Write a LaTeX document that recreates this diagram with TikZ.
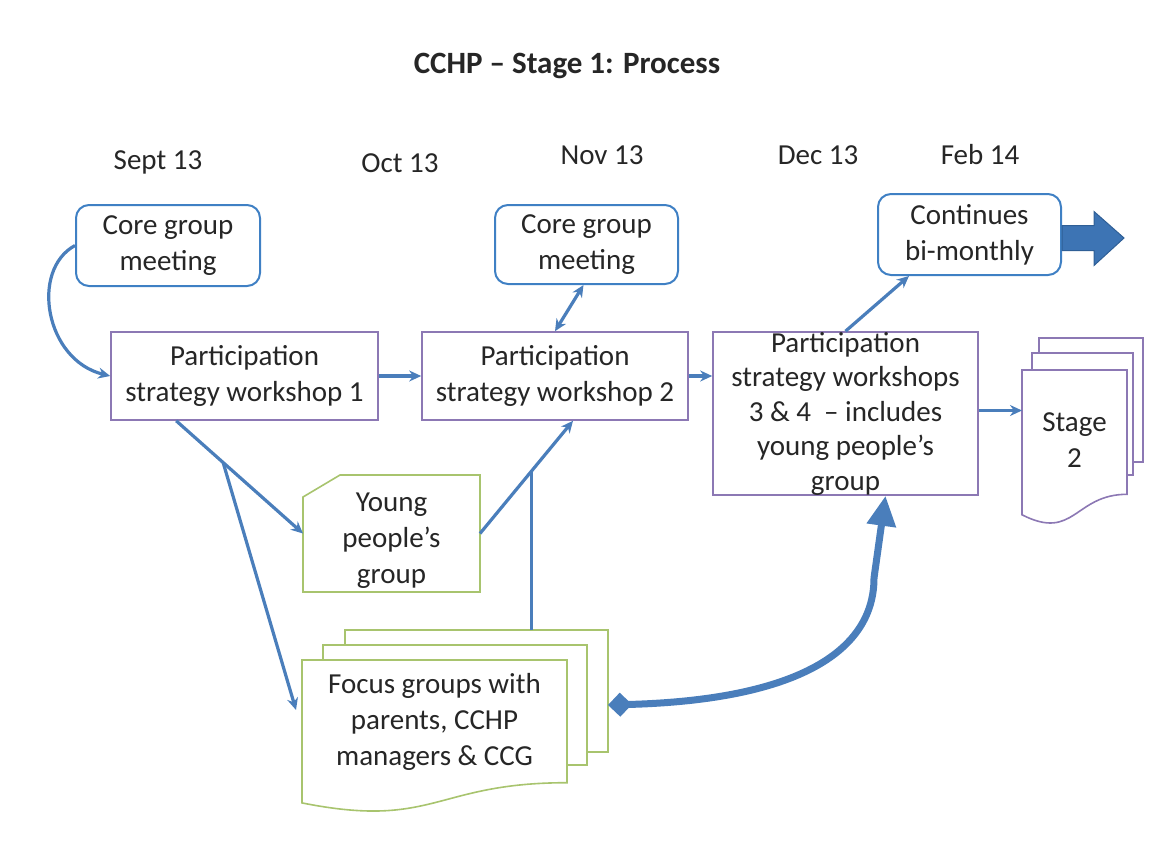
\documentclass[tikz,border=0pt]{standalone}
\usepackage{fontspec}
\setmainfont{Carlito}
\usetikzlibrary{arrows.meta,calc}
\definecolor{cblue}{HTML}{4A7EBB}
\definecolor{bbox}{HTML}{3F80C4}
\definecolor{cpurple}{HTML}{8C78B4}
\definecolor{cgreen}{HTML}{A8C46E}
\definecolor{ctext}{HTML}{262626}
\definecolor{barrow}{HTML}{3D74B4}
\definecolor{barrowd}{HTML}{2F5F96}
\newcommand{\DocPath}[2]{%
  \path[#2] (#1.north west) -- (#1.north east)
    -- ($(#1.north east)!0.802!(#1.south east)$)
    .. controls ($(#1.north)!0.802!(#1.south)$) and ($(#1.north)!1.107!(#1.south)$)
    .. ($(#1.north west)!0.934!(#1.south west)$) -- cycle;}
\begin{document}
\begin{tikzpicture}[x=1pt,y=-1pt,
  txt/.style={font=\fontsize{29}{36}\selectfont, text=ctext, align=center, inner sep=0pt},
  datelbl/.style={font=\fontsize{29}{34}\selectfont, text=ctext, inner sep=0pt},
  roundbox/.style={txt, draw=bbox, line width=2pt, rounded corners=13pt, fill=white},
  pbox/.style={txt, draw=cpurple, line width=1.6pt, fill=white},
  frame/.style={inner sep=0pt, outer sep=0pt},
  greenline/.style={draw=cgreen, line width=1.6pt, fill=white},
  purpleline/.style={draw=cpurple, line width=1.6pt, fill=white},
  conn/.style={draw=cblue, line width=3.2pt, -{Stealth[length=12pt,width=11pt]}},
  connboth/.style={draw=cblue, line width=3.2pt, {Stealth[length=12pt,width=11pt]}-{Stealth[length=12pt,width=11pt]}},
  connplain/.style={draw=cblue, line width=3.2pt},
  thickconn/.style={draw=cblue, line width=7pt, {Diamond[length=24pt,width=24pt]}-{Triangle[length=30pt,width=28pt]}}
]
\useasboundingbox (0,0) rectangle (1164,865);

% title and dates
\node[font=\fontsize{31}{36}\selectfont\bfseries, text=ctext, inner sep=0pt] (title) at (567,66) {CCHP – Stage 1: Process};
\node[datelbl] (d1) at (158,162) {Sept 13};
\node[datelbl] (d2) at (400,163) {Oct 13};
\node[datelbl] (d3) at (602,155) {Nov 13};
\node[datelbl] (d4) at (818,155) {Dec 13};
\node[datelbl] (d5) at (980,155) {Feb 14};

% rounded boxes
\node[roundbox, minimum width=184pt, minimum height=81pt] (core1) at (168,245.5) {Core group\\meeting};
\node[roundbox, minimum width=183pt, minimum height=79pt] (core2) at (586.5,244.5) {Core group\\meeting};
\node[roundbox, minimum width=183pt, minimum height=81pt] (cont) at (969.5,234.5) {Continues\\bi-monthly};

% process boxes
\node[pbox, minimum width=267pt, minimum height=88pt] (psw1) at (244.5,376) {Participation\\strategy workshop 1};
\node[pbox, minimum width=266pt, minimum height=88pt] (psw2) at (555,376) {Participation\\strategy workshop 2};
\node[pbox, minimum width=265pt, minimum height=163pt, font=\fontsize{29}{34.5}\selectfont] (psw3) at (845.5,413.5) {Participation\\strategy workshops\\3 \& 4 \ – includes\\young people’s\\group};

% young people's group (snipped corner)
\node[frame, minimum width=177pt, minimum height=117pt] (young) at (391.5,533.5) {};
\path[greenline] ($(young.north west)+(0,22)$) -- ($(young.north west)+(37,0)$) -- (young.north east) -- (young.south east) -- (young.south west) -- cycle;
\node[txt] (youngtxt) at (391.5,541) {Young\\people’s\\group};

% focus groups multidocument
\node[frame, minimum width=263pt, minimum height=122pt] (focusback) at (476.5,691) {};
\node[frame, minimum width=264pt, minimum height=120pt] (focusmid) at (455,705) {};
\node[frame, minimum width=265pt, minimum height=153pt] (focus) at (434.5,736.5) {};
\path[greenline] (focusback.north west) rectangle (focusback.south east);
\path[greenline] (focusmid.north west) rectangle (focusmid.south east);
\DocPath{focus}{greenline}
\node[txt] (focustxt) at (434.5,722) {Focus groups with\\parents, CCHP\\managers \& CCG};

% stage 2 multidocument
\node[frame, minimum width=104pt, minimum height=124pt] (stback) at (1091,400) {};
\node[frame, minimum width=101pt, minimum height=122pt] (stmid) at (1082.5,414) {};
\node[frame, minimum width=105pt, minimum height=155pt] (stage) at (1074.5,447.5) {};
\path[purpleline] (stback.north west) rectangle (stback.south east);
\path[purpleline] (stmid.north west) rectangle (stmid.south east);
\DocPath{stage}{purpleline}
\node[txt] (stagetxt) at (1074.5,440) {Stage\\2};

% connectors
\draw[conn] (core1.west) .. controls (30,270) and (45,360) .. (psw1.west);
\draw[conn] (psw1.east) -- (psw2.west);
\draw[conn] (psw2.east) -- (psw2.east -| psw3.west);
\draw[connboth] ($(core2.south)+(-3,0)$) -- (psw2.north);
\draw[conn] (psw3.north) -- ($(cont.south west)+(32,0)$);
\coordinate (p3e) at ($(psw3.east)+(0,-3)$);
\draw[conn] (p3e) -- (p3e -| stage.west);

\coordinate (p1s) at ($(psw1.south west)+(66,0)$);
\draw[conn] (p1s) -- (young.west);
\coordinate (br) at ($(p1s)!0.37!(young.west)$);
\draw[conn] (br) -- ($(focus.north west)+(-6,50)$);

\coordinate (p2s) at ($(psw2.south)+(18,0)$);
\draw[conn] (young.east) -- (p2s);
\coordinate (jn) at ($(young.east)!0.55!(p2s)$);
\draw[connplain] (jn |- focusback.north) -- (jn);

\coordinate (fd) at ($(focusback.east)+(0,14)$);
\coordinate (p3s) at ($(psw3.south)+(40,0)$);
\draw[thickconn] (fd) .. controls (800,700) and (874,650) .. (874,578) -- (p3s);

% big block arrow
\path[fill=barrow, draw=barrowd, line width=1pt]
  ($(cont.east)+(0,-9)$) -- ($(cont.east)+(32,-9)$) -- ($(cont.east)+(32,-23)$)
  -- ($(cont.east)+(62,3.5)$) -- ($(cont.east)+(32,31)$) -- ($(cont.east)+(32,16)$)
  -- ($(cont.east)+(0,16)$) -- cycle;
\end{tikzpicture}
\end{document}
